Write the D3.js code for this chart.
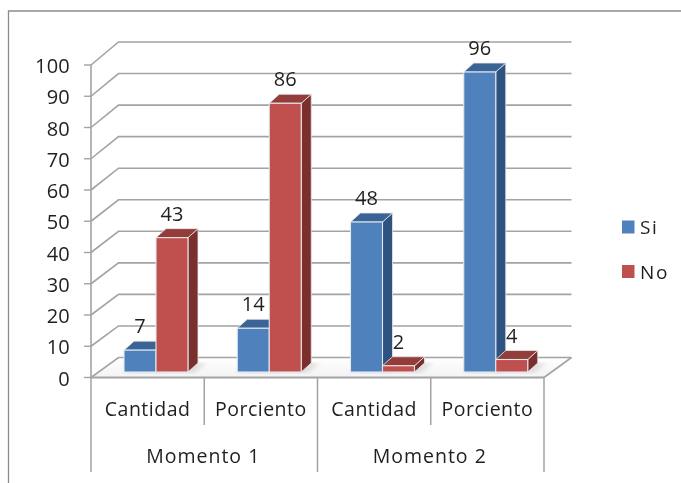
<!DOCTYPE html>
<html><head><meta charset="utf-8">
<script src="https://cdn.jsdelivr.net/npm/d3@7"></script>
<style>html,body{margin:0;background:#fff;overflow:hidden}svg{display:block;filter:blur(0.35px)}text{font-family:"Open Sans","DejaVu Sans",sans-serif;fill:#1f1f1f}</style>
</head><body><svg id="c" width="681" height="483"></svg>
<script>
const categories=["Cantidad","Porciento","Cantidad","Porciento"];
const groups=["Momento 1","Momento 2"];
const seriesNames=["Si","No"];
const si=[7,14,48,96];
const no=[43,86,2,4];
const ticks=d3.range(0,101,10);
const colors=["#4f81bd","#c0504d"],sideC=["#2f5380","#7b2f2d"],topC=["#3a6496","#943c3a"];
const svg=d3.select("#c");
const x=d3.scaleBand().domain(d3.range(4)).range([91,544]);
const y=d3.scaleLinear().domain([0,100]).range([377.5,65]);
const yBack=d3.scaleLinear().domain([0,100]).range([357.5,42]);
const dx=27.5;
const bdx=10,bdy=-9,base=-5.5;
svg.append("path").attr("d","M8.5,483V11H681").attr("fill","none").attr("stroke","#8c8c8c").attr("stroke-width",1.3);
const defs=svg.append("defs");
const g=defs.append("linearGradient").attr("id","fl").attr("x1",0).attr("x2",0).attr("y1",0).attr("y2",1);
g.append("stop").attr("offset",0).attr("stop-color","#fff");g.append("stop").attr("offset",1).attr("stop-color","#f3f3f3");
defs.append("filter").attr("id","sh").append("feGaussianBlur").attr("stdDeviation",2);
svg.append("path").attr("d",`M91,${y(0)}L${91+dx},${yBack(0)}H${544+dx}L544,${y(0)}Z`).attr("fill","url(#fl)");
const gc="#a3a3a3";
svg.append("g").selectAll("path").data(ticks).join("path")
 .attr("d",d=>`M91,${y(d)}L${91+dx},${yBack(d)}H${544+dx}`).attr("fill","none").attr("stroke",gc).attr("stroke-width",1.6);
svg.append("path").attr("d",`M544,${y(0)}L${544+dx},${yBack(0)}`).attr("fill","none").attr("stroke",gc).attr("stroke-width",1.6);
svg.append("path").attr("d",`M91,${y(100)}V${y(0)}`).attr("stroke",gc).attr("stroke-width",1.6);
svg.append("g").selectAll("line").data(ticks).join("line").attr("x1",84).attr("x2",91).attr("y1",d=>y(d)).attr("y2",d=>y(d)).attr("stroke",gc).attr("stroke-width",1.4);
svg.append("g").selectAll("text").data(ticks).join("text").attr("x",70).attr("y",d=>y(d)+8).attr("text-anchor","end").attr("font-size",20).attr("letter-spacing",0.2).text(d=>d);
svg.append("path").attr("d",`M91,${y(0)}H544`).attr("stroke",gc).attr("stroke-width",2.2);
const seps=[0,1,2,3,4];
svg.append("g").selectAll("line").data(seps).join("line")
 .attr("x1",i=>i<4?x(i):x.range()[1]).attr("x2",i=>i<4?x(i):x.range()[1])
 .attr("y1",y(0)).attr("y2",i=>i%2?425:472).attr("stroke",gc).attr("stroke-width",1.5);
svg.append("g").selectAll("text").data(categories).join("text").attr("x",(d,i)=>x(i)+x.bandwidth()/2).attr("y",416).attr("text-anchor","middle").attr("font-size",19.5).attr("letter-spacing",0.5).text(d=>d);
svg.append("g").selectAll("text").data(groups).join("text").attr("x",(d,i)=>x(i*2)+x.bandwidth()-1).attr("y",463).attr("text-anchor","middle").attr("font-size",19.5).attr("letter-spacing",1).text(d=>d);
const h=v=>y(0)-y(v);
const barW=32,first=33;
const items=[];
[si,no].forEach((arr,s)=>arr.forEach((v,i)=>items.push({v,s,i})));
items.sort((a,b)=>(a.i-b.i)||(a.s-b.s));
const bx=d=>x(d.i)+first+d.s*barW;
const yb=y(0)+base;
svg.append("g").selectAll("path").data(items).join("path").attr("d",d=>`M${bx(d)-3},${yb+1}H${bx(d)+barW+bdx-4}L${bx(d)+barW+bdx+9},${yb-9}H${bx(d)+barW}Z`).attr("fill","#c8c8c8").attr("opacity",.55).attr("filter","url(#sh)");
const bars=svg.append("g").selectAll("g").data(items).join("g");
bars.append("path").attr("d",d=>{const X=bx(d)+barW,T=yb-h(d.v);return `M${X},${yb}L${X+bdx},${yb+bdy}V${T+bdy}L${X},${T}Z`}).attr("fill",d=>sideC[d.s]).attr("stroke","#e8e8e8").attr("stroke-width",.8);
bars.append("path").attr("d",d=>{const X=bx(d),T=yb-h(d.v);return `M${X},${T}L${X+bdx},${T+bdy}H${X+barW+bdx}L${X+barW},${T}Z`}).attr("fill",d=>topC[d.s]).attr("stroke","#e8e8e8").attr("stroke-width",.8);
bars.append("rect").attr("x",bx).attr("y",d=>yb-h(d.v)).attr("width",barW).attr("height",d=>h(d.v)).attr("fill",d=>colors[d.s]).attr("stroke","#e4e9f0").attr("stroke-width",1.1);
svg.append("g").selectAll("text").data(items).join("text").attr("x",d=>bx(d)+barW/2).attr("y",d=>yb-h(d.v)-17).attr("text-anchor","middle").attr("font-size",20).text(d=>d.v);
const ly=[227,271.5];
svg.append("g").selectAll("rect").data(seriesNames).join("rect").attr("x",622).attr("y",(d,i)=>ly[i]-6.5).attr("width",12.5).attr("height",13).attr("fill",(d,i)=>colors[i]);
svg.append("g").selectAll("text").data(seriesNames).join("text").attr("x",640).attr("y",(d,i)=>ly[i]+7).attr("font-size",19).attr("letter-spacing",1.6).text(d=>d);
</script></body></html>
